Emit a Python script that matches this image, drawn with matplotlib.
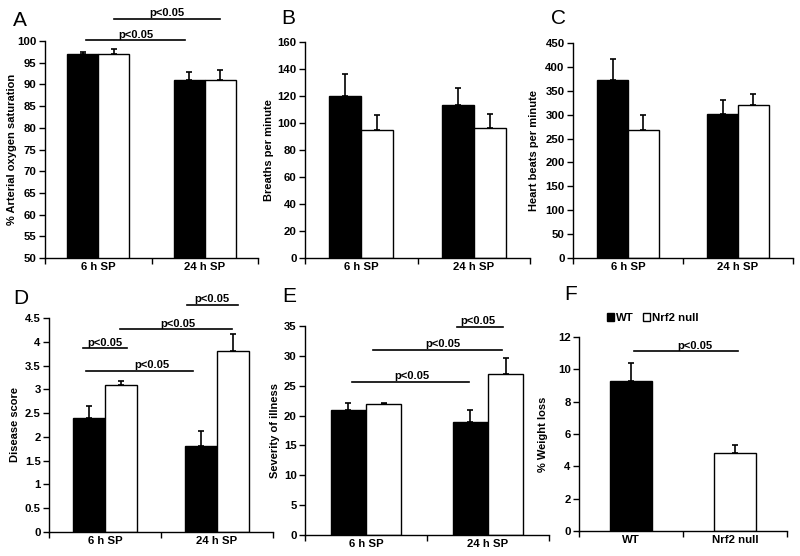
import matplotlib
matplotlib.use("Agg")
import matplotlib.pyplot as plt
from matplotlib.patches import Patch
from matplotlib.ticker import FuncFormatter
import numpy as np

plt.rcParams['font.family'] = ['Liberation Sans', 'DejaVu Sans']

# ---------------- data ----------------
groups = ["6 h SP", "24 h SP"]
series_names = ["WT", "Nrf2 null"]

# A: arterial oxygen saturation
a_wt = [97, 91]
a_wt_err = [0.5, 1.8]
a_nrf = [97, 91]
a_nrf_err = [1.2, 2.3]

# B: breaths per minute
b_wt = [120, 113]
b_wt_err = [16, 13]
b_nrf = [95, 96]
b_nrf_err = [11, 11]

# C: heart beats per minute
c_wt = [373, 302]
c_wt_err = [43, 29]
c_nrf = [267, 321]
c_nrf_err = [32, 23]

# D: disease score
d_wt = [2.4, 1.8]
d_wt_err = [0.25, 0.32]
d_nrf = [3.1, 3.8]
d_nrf_err = [0.08, 0.37]

# E: severity of illness
e_wt = [21, 19]
e_wt_err = [1.1, 2.0]
e_nrf = [22, 27]
e_nrf_err = [0.15, 2.7]

# F: weight loss
f_labels = ["WT", "Nrf2 null"]
f_vals = [9.3, 4.8]
f_err = [1.1, 0.55]

W, H = 800, 556
fig = plt.figure(figsize=(8, 5.56), dpi=100)

TICK_FS = 8.2
LAB_FS = 8
P_FS = 8


def make_ax(l, r, t, b):
    ax = fig.add_axes([l / W, 1 - b / H, (r - l) / W, (b - t) / H])
    ax._px = (l, r)
    return ax


def style(ax, ylim, yticks, ylabel, xlabels, label_right_px, fmt=None):
    ax.set_xlim(-0.5, len(xlabels) - 0.5)
    ax.set_ylim(*ylim)
    ax.set_yticks(yticks)
    if fmt:
        ax.yaxis.set_major_formatter(FuncFormatter(fmt))
    ax.spines['top'].set_visible(False)
    ax.spines['right'].set_visible(False)
    for s in ('left', 'bottom'):
        ax.spines[s].set_linewidth(1.0)
    ax.set_xticks(range(len(xlabels)))
    ax.set_xticklabels(xlabels, fontsize=TICK_FS, fontweight='bold')
    ax.set_xticks(np.arange(-0.5, len(xlabels)), minor=True)
    ax.tick_params(axis='x', which='major', length=0, pad=3)
    ax.tick_params(axis='x', which='minor', length=4, direction='out', width=1)
    ax.tick_params(axis='y', length=4, width=1, direction='out', labelsize=TICK_FS, pad=2)
    for lab in ax.get_yticklabels():
        lab.set_fontweight('bold')
    ax.set_ylabel(ylabel, fontsize=LAB_FS, fontweight='bold')
    l, r = ax._px
    ax.yaxis.set_label_coords((label_right_px - l) / (r - l), 0.5)


def grouped(ax, wt, wte, nrf, nrfe, bw=0.29):
    x = np.arange(len(wt))
    ax.bar(x - bw / 2, wt, bw, color='black', edgecolor='black', linewidth=1, zorder=2)
    ax.bar(x + bw / 2, nrf, bw, color='white', edgecolor='black', linewidth=1, zorder=2)
    ax.errorbar(x - bw / 2, wt, yerr=[np.zeros(len(wt)), wte], fmt='none', ecolor='black',
                elinewidth=1.2, capsize=2.5, capthick=1.2, zorder=3)
    ax.errorbar(x + bw / 2, nrf, yerr=[np.zeros(len(nrf)), nrfe], fmt='none', ecolor='black',
                elinewidth=1.2, capsize=2.5, capthick=1.2, zorder=3)


def px2x(ax, px, n=2):
    l, r = ax._px
    return -0.5 + (px - l) / (r - l) * n


def sig(ax, x0px, x1px, y, xtpx=None):
    x0, x1 = px2x(ax, x0px), px2x(ax, x1px)
    ax.plot([x0, x1], [y, y], color='black', lw=1.2, clip_on=False)
    xt = (x0 + x1) / 2 if xtpx is None else px2x(ax, xtpx)
    ax.annotate("p<0.05", (xt, y), xytext=(0, 0.3), textcoords='offset points',
                ha='center', va='bottom', fontsize=P_FS, fontweight='bold', annotation_clip=False)


def panel_label(x, y, s):
    fig.text(x / W, 1 - y / H, s, fontsize=15, ha='left', va='center')


def fmt_num(v, pos):
    return ("%g" % v)

# ---------------- A ----------------
axA = make_ax(45, 258, 41, 258)
grouped(axA, a_wt, a_wt_err, a_nrf, a_nrf_err)
style(axA, (50, 100), np.arange(50, 101, 5), "% Arterial oxygen saturation", groups, 17)
sig(axA, 86, 185, 100.2)
sig(axA, 114, 220, 105.1)
panel_label(13, 20, "A")

# ---------------- B ----------------
axB = make_ax(305, 530, 42, 258)
grouped(axB, b_wt, b_wt_err, b_nrf, b_nrf_err, bw=0.285)
style(axB, (0, 160), np.arange(0, 161, 20), "Breaths per minute", groups, 274)
panel_label(281, 18, "B")

# ---------------- C ----------------
axC = make_ax(573, 793, 43, 258)
grouped(axC, c_wt, c_wt_err, c_nrf, c_nrf_err, bw=0.28)
style(axC, (0, 450), np.arange(0, 451, 50), "Heart beats per minute", groups, 539)
panel_label(551, 18, "C")

# ---------------- D ----------------
axD = make_ax(49, 273, 318, 532)
grouped(axD, d_wt, d_wt_err, d_nrf, d_nrf_err)
style(axD, (0, 4.5), np.arange(0, 4.51, 0.5), "Disease score", groups, 20, fmt=fmt_num)
sig(axD, 83, 127, 3.87)
sig(axD, 86, 193, 3.39, 152)
sig(axD, 120, 232, 4.26, 178)
sig(axD, 187, 238, 4.78, 212)
panel_label(13, 298, "D")

# ---------------- E ----------------
axE = make_ax(305, 549, 326, 535)
grouped(axE, e_wt, e_wt_err, e_nrf, e_nrf_err)
style(axE, (0, 35), np.arange(0, 36, 5), "Severity of illness", groups, 280)
sig(axE, 352, 469, 25.7, 412)
sig(axE, 373, 502, 31.0, 443)
sig(axE, 457, 503, 34.9, 478)
panel_label(282, 296, "E")

# ---------------- F ----------------
axF = make_ax(579, 787, 337, 531)
xf = np.arange(len(f_vals))
axF.bar(xf, f_vals, 0.41, color=['black', 'white'], edgecolor='black', linewidth=1, zorder=2)
axF.errorbar(xf, f_vals, yerr=[np.zeros(len(f_vals)), f_err], fmt='none', ecolor='black',
             elinewidth=1.2, capsize=2.5, capthick=1.2, zorder=3)
style(axF, (0, 12), np.arange(0, 13, 2), "% Weight loss", f_labels, 548)
sig(axF, 634, 738, 11.13, 695)
panel_label(564, 295, "F")

handles = [Patch(facecolor='black', edgecolor='black', label=series_names[0]),
           Patch(facecolor='white', edgecolor='black', label=series_names[1])]
leg = fig.legend(handles=handles, loc='center', bbox_to_anchor=(653 / W, 1 - 318 / H), ncol=2,
                 frameon=False, handlelength=0.6, handleheight=0.6, handletextpad=0.2,
                 columnspacing=0.8, prop={'size': TICK_FS, 'weight': 'bold'})

fig.savefig("out.png", dpi=100)
